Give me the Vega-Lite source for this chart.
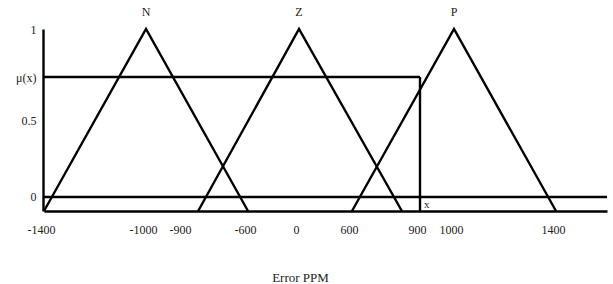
{
  "$schema": "https://vega.github.io/schema/vega-lite/v6.json",
  "width": 564,
  "height": 182,
  "autosize": {"type": "none"},
  "padding": {"left": 43, "top": 29, "right": 6, "bottom": 73},
  "background": "white",
  "config": {"view": {"stroke": null}, "font": "Liberation Serif"},
  "datasets": {
    "tri": [
      {"set": "N", "x": -1400, "mu": 0, "ord": 1},
      {"set": "N", "x": -1000, "mu": 1, "ord": 2},
      {"set": "N", "x": -600, "mu": 0, "ord": 3},
      {"set": "Z", "x": -830, "mu": 0, "ord": 1},
      {"set": "Z", "x": 0, "mu": 1, "ord": 2},
      {"set": "Z", "x": 820, "mu": 0, "ord": 3},
      {"set": "P", "x": 600, "mu": 0, "ord": 1},
      {"set": "P", "x": 1000, "mu": 1, "ord": 2},
      {"set": "P", "x": 1400, "mu": 0, "ord": 3}
    ],
    "names": [
      {"label": "N", "x": -1000},
      {"label": "Z", "x": 0},
      {"label": "P", "x": 1000}
    ],
    "input": [
      {"x0": -1400, "x1": 900, "mu": 0.736, "base": 0, "label": "x"}
    ],
    "zeroline": [
      {"mu": 0.077}
    ]
  },
  "layer": [
    {
      "data": {"name": "tri"},
      "mark": {"type": "line", "color": "#000", "strokeWidth": 2.4},
      "encoding": {
        "x": {
          "field": "x",
          "type": "quantitative",
          "scale": {
            "domain": [-1400, -1000, -900, -600, 0, 600, 900, 1000, 1400, 1600],
            "range": [1, 103, 140, 205, 256, 309, 377, 411, 513, 564],
            "nice": false,
            "zero": false
          },
          "axis": {
            "values": [-1400, -1000, -900, -600, 0, 600, 900, 1000, 1400],
            "labelExpr": "'' + datum.value",
            "grid": false,
            "ticks": false,
            "domainColor": "#000",
            "domainWidth": 2.4,
            "labelFont": "Liberation Serif",
            "labelFontSize": 12,
            "labelColor": "#222",
            "labelPadding": 13,
            "labelOffset": -3,
            "labelOverlap": false,
            "labelFlush": false,
            "title": "Error PPM",
            "titleFont": "Liberation Serif",
            "titleFontSize": 13,
            "titleFontWeight": "normal",
            "titleColor": "#222",
            "titleX": 257,
            "titleY": 66,
            "titleBaseline": "middle",
            "titleAnchor": "middle"
          }
        },
        "y": {
          "field": "mu",
          "type": "quantitative",
          "scale": {"domain": [0, 1], "nice": false, "zero": false},
          "axis": {
            "values": [0.077, 0.5, 0.736, 1],
            "labelExpr": "datum.value > 0.9 ? '1' : datum.value > 0.6 ? 'μ(x)' : datum.value > 0.3 ? '0.5' : '0'",
            "grid": false,
            "ticks": false,
            "domainColor": "#000",
            "domainWidth": 2.4,
            "labelFont": "Liberation Serif",
            "labelFontSize": 12,
            "labelColor": "#222",
            "labelPadding": 7,
            "title": null
          }
        },
        "detail": {"field": "set"},
        "order": {"field": "ord"}
      }
    },
    {
      "data": {"name": "zeroline"},
      "mark": {"type": "rule", "color": "#000", "strokeWidth": 2.4},
      "encoding": {"y": {"field": "mu", "type": "quantitative"}}
    },
    {
      "data": {"name": "input"},
      "mark": {"type": "rule", "color": "#000", "strokeWidth": 2.4},
      "encoding": {
        "x": {"field": "x0", "type": "quantitative"},
        "x2": {"field": "x1"},
        "y": {"field": "mu", "type": "quantitative"}
      }
    },
    {
      "data": {"name": "input"},
      "mark": {"type": "rule", "color": "#000", "strokeWidth": 2.4},
      "encoding": {
        "x": {"field": "x1", "type": "quantitative"},
        "y": {"field": "base", "type": "quantitative"},
        "y2": {"field": "mu"}
      }
    },
    {
      "data": {"name": "input"},
      "mark": {"type": "text", "font": "Liberation Serif", "fontSize": 11, "color": "#222", "align": "left", "baseline": "bottom", "dx": 4, "dy": -1},
      "encoding": {
        "x": {"field": "x1", "type": "quantitative"},
        "y": {"field": "base", "type": "quantitative"},
        "text": {"field": "label"}
      }
    },
    {
      "data": {"name": "names"},
      "mark": {"type": "text", "font": "Liberation Serif", "fontSize": 12, "color": "#222", "align": "center", "baseline": "bottom", "dy": -10},
      "encoding": {
        "x": {"field": "x", "type": "quantitative"},
        "y": {"datum": 1, "type": "quantitative"},
        "text": {"field": "label"}
      }
    }
  ]
}
